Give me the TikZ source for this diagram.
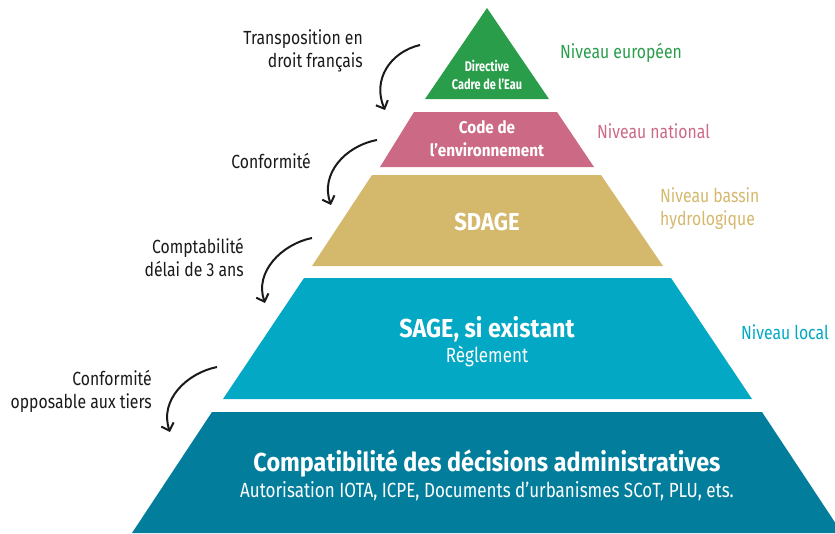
\documentclass[tikz,border=0pt]{standalone}
\usepackage{fontspec}
\setmainfont{Fira Sans}[FakeStretch=0.83]
\newfontfamily\bfam{Fira Sans}[FakeStretch=0.9]
\newfontfamily\bfamn{Fira Sans}[FakeStretch=0.78]
\usetikzlibrary{arrows.meta}
\definecolor{cgreen}{HTML}{2A9D4B}
\definecolor{cpink}{HTML}{CC6A85}
\definecolor{ctan}{HTML}{D4B86C}
\definecolor{ccyan}{HTML}{02A8C4}
\definecolor{cteal}{HTML}{027E9C}
\definecolor{ctext}{HTML}{1A1A1A}
\tikzset{
  flow/.style={line width=2pt, draw=ctext, -{Straight Barb[length=6.5pt,width=13pt,line width=2pt]}},
  lefttxt/.style={anchor=east, align=right, text=ctext, inner sep=0pt, font=\fontsize{19}{23}\selectfont},
  righttxt/.style={anchor=west, align=left, inner sep=0pt, font=\fontsize{19}{23}\selectfont},
  intxt/.style={align=center, text=white, inner sep=0pt},
}
\begin{document}
\begin{tikzpicture}[x=1pt,y=-1pt]
\useasboundingbox (0,0) rectangle (835,533);
% pyramid
\fill[cgreen] (487,8) -- (549,99) -- (425,99) -- cycle;
\fill[cpink] (414,112) -- (557,112) -- (594,167) -- (380,167) -- cycle;
\fill[ctan] (372,175) -- (601,175) -- (663,266) -- (312,266) -- cycle;
\fill[ccyan] (304,278) -- (671,278) -- (752,399) -- (223,399) -- cycle;
\fill[cteal] (212,412) -- (762,412) -- (842,533) -- (132,533) -- cycle;
% inner texts
\node[intxt, font=\bfamn\bfseries\fontsize{14}{18}\selectfont] (dce) at (487,75) {Directive\\Cadre de l’Eau};
\node[intxt, font=\bfam\bfseries\fontsize{17}{23}\selectfont] (code) at (487,139) {Code de\\l’environnement};
\node[intxt, font=\bfam\bfseries\fontsize{24.5}{30}\selectfont] (sdage) at (487,222) {SDAGE};
\node[intxt, font=\bfam\bfseries\fontsize{26}{30}\selectfont] (sage) at (487,329) {SAGE, si existant};
\node[intxt, font=\fontsize{20.5}{24}\selectfont] (regl) at (487,356) {Règlement};
\node[intxt, font=\bfam\bfseries\fontsize{26}{30}\selectfont] (compat) at (487,464) {Compatibilité des décisions administratives};
\node[intxt, font=\fontsize{20.5}{24}\selectfont] (autor) at (487,491) {Autorisation IOTA, ICPE, Documents d’urbanismes SCoT, PLU, ets.};
% right labels
\node[righttxt, text=cgreen] (neu) at (560,53) {Niveau européen};
\node[righttxt, text=cpink] (nnat) at (597,131) {Niveau national};
\node[righttxt, text=ctan] (nbas) at (660,209) {Niveau bassin\\hydrologique};
\node[righttxt, text=ccyan] (nloc) at (741,332) {Niveau local};
% left labels
\node[lefttxt] (l1) at (363,51) {Transposition en\\droit français};
\node[lefttxt] (l2) at (311,161) {Conformité};
\node[lefttxt] (l3) at (244,257) {Comptabilité\\délai de 3 ans};
\node[lefttxt] (l4) at (152,391) {Conformité\\opposable aux tiers};
% arrows
\coordinate (a1s) at (420,45); \coordinate (a1e) at (385,110);
\coordinate (a2s) at (377,140); \coordinate (a2e) at (331,205);
\coordinate (a3s) at (312,238); \coordinate (a3e) at (265,303);
\coordinate (a4s) at (217,367); \coordinate (a4e) at (170,432);
\draw[flow] (a1s) .. controls (390,52) and (372,80) .. (a1e);
\draw[flow] (a2s) .. controls (345,146) and (320,174) .. (a2e);
\draw[flow] (a3s) .. controls (282,244) and (254,272) .. (a3e);
\draw[flow] (a4s) .. controls (187,373) and (159,400) .. (a4e);
\end{tikzpicture}
\end{document}
